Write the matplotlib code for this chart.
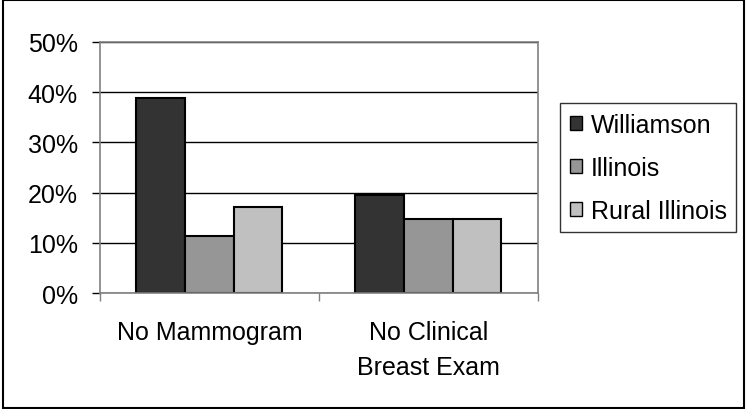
import matplotlib.pyplot as plt
import numpy as np
from matplotlib.patches import Rectangle

plt.rcParams['font.family'] = ['Liberation Sans', 'DejaVu Sans']

categories = ["No Mammogram", "No Clinical\nBreast Exam"]
series_names = ["Williamson", "Illinois", "Rural Illinois"]
williamson = [38.9, 19.5]
illinois = [11.4, 14.7]
rural_illinois = [17.1, 14.7]
y_ticks = [0, 10, 20, 30, 40, 50]
y_tick_labels = ["0%", "10%", "20%", "30%", "40%", "50%"]

colors = ["#333333", "#969696", "#c0c0c0"]
fs = 18

fig = plt.figure(figsize=(7.46, 4.10), dpi=100)
ax = fig.add_axes([0.134, 0.2822, 0.5868, 0.6137])

x = np.arange(len(categories))
width = 1 / 4.5
values = [williamson, illinois, rural_illinois]
for i, (name, vals) in enumerate(zip(series_names, values)):
    ax.bar(x + (i - 1) * width, vals, width, color=colors[i], edgecolor="black",
           linewidth=1.5, label=name, zorder=3)

ax.set_xlim(-0.5, len(categories) - 0.5)
ax.set_ylim(0, 50)
ax.set_yticks(y_ticks)
ax.set_yticklabels(y_tick_labels, fontsize=fs)
ax.yaxis.grid(True, color="black", linewidth=1, zorder=0)
ax.set_axisbelow(True)

ax.set_xticks(x)
ax.set_xticklabels(categories, fontsize=fs, linespacing=1.6)
ax.tick_params(axis="x", which="major", length=0, pad=19)
ax.set_xticks(np.arange(-0.5, len(categories), 1), minor=True)
ax.tick_params(axis="x", which="minor", length=6, color="#808080", width=1)
ax.tick_params(axis="y", length=6, width=1, color="black", pad=10)

for side in ["top", "right", "bottom", "left"]:
    ax.spines[side].set_color("#808080")
    ax.spines[side].set_linewidth(1.2)
    ax.spines[side].set_zorder(4)

leg = fig.legend(loc="upper left", bbox_to_anchor=(0.7507, 1 - 104.3 / 410),
                 fontsize=fs, frameon=True, fancybox=False, edgecolor="black",
                 handlelength=0.5, handleheight=0.5, handletextpad=0.35,
                 labelspacing=0.76, borderpad=0.38, borderaxespad=0)
leg.get_frame().set_linewidth(1)
for h in leg.legend_handles:
    h.set_linewidth(1)

fig.patches.append(Rectangle((0.004, 0.002), 0.993, 0.995, transform=fig.transFigure,
                             fill=False, edgecolor="black", linewidth=1.5))

fig.savefig("out.png", dpi=100)
